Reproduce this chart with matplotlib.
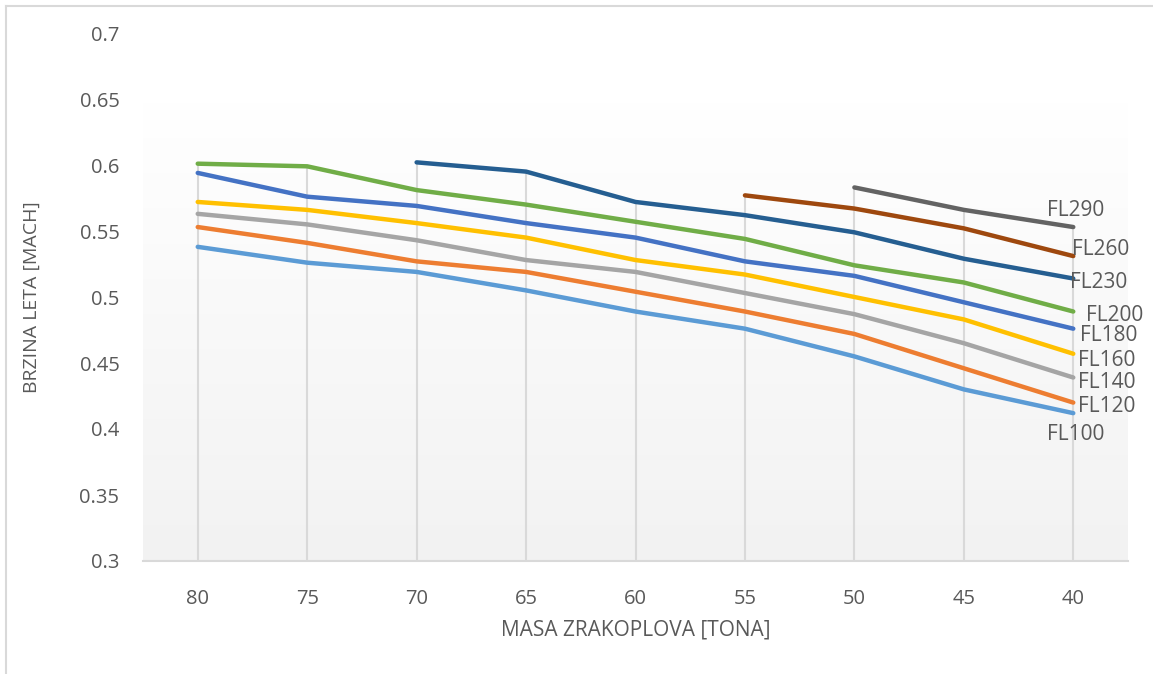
import matplotlib.pyplot as plt
import numpy as np
from matplotlib.lines import Line2D

plt.rcParams['font.family'] = ['Open Sans', 'DejaVu Sans']

# masa zrakoplova [t]
masa = ["80", "75", "70", "65", "60", "55", "50", "45", "40"]
nan = np.nan

fl100 = [0.538, 0.526, 0.519, 0.505, 0.489, 0.476, 0.455, 0.430, 0.412]
fl120 = [0.553, 0.541, 0.527, 0.519, 0.504, 0.489, 0.472, 0.446, 0.420]
fl140 = [0.563, 0.555, 0.543, 0.528, 0.519, 0.503, 0.487, 0.465, 0.439]
fl160 = [0.572, 0.566, 0.556, 0.545, 0.528, 0.517, 0.500, 0.483, 0.457]
fl180 = [0.594, 0.576, 0.569, 0.556, 0.545, 0.527, 0.516, 0.496, 0.476]
fl200 = [0.601, 0.599, 0.581, 0.570, 0.557, 0.544, 0.524, 0.511, 0.489]
fl230 = [nan, nan, 0.602, 0.595, 0.572, 0.562, 0.549, 0.529, 0.514]
fl260 = [nan, nan, nan, nan, nan, 0.577, 0.567, 0.552, 0.531]
fl290 = [nan, nan, nan, nan, nan, nan, 0.583, 0.566, 0.553]

series = [fl100, fl120, fl140, fl160, fl180, fl200, fl230, fl260, fl290]
names = ["FL100", "FL120", "FL140", "FL160", "FL180", "FL200", "FL230", "FL260", "FL290"]
colors = ["#5b9bd5", "#ed7d31", "#a5a5a5", "#ffc000", "#4472c4",
          "#70ad47", "#255e91", "#9e480e", "#636363"]
# label offset from last point, pixels
offs = [(2, -21), (33, -4), (33, -5), (33, -7), (35, -7),
        (41, -4), (25, -4), (27, 7), (2, 17)]

W, H = 1153, 674
fig = plt.figure(figsize=(W / 100, H / 100), dpi=100)
ax = fig.add_axes([143 / W, (H - 561) / H, (1128 - 143) / W, (561 - 33) / H])
ax.set_facecolor('none')
ax.set_xlim(-0.5, 8.5)
ax.set_ylim(0.3, 0.7)

# chart area border (top & left visible)
fig.add_artist(Line2D([5.5 / W, 5.5 / W], [0, 1 - 5.5 / H], transform=fig.transFigure,
                      color='#d9d9d9', lw=1.5))
fig.add_artist(Line2D([5.5 / W, 1], [1 - 5.5 / H, 1 - 5.5 / H], transform=fig.transFigure,
                      color='#d9d9d9', lw=1.5))

# gradient plot area
grad = np.linspace(0, 1, 256).reshape(-1, 1)
c0 = np.array([0xf2, 0xf2, 0xf2]) / 255
c1 = np.array([1.0, 1.0, 1.0])
img = c0[None, None, :] * (1 - grad[:, :, None]) + c1[None, None, :] * grad[:, :, None]
ax.imshow(img, extent=[-0.5, 8.5, 0.3, 0.647], origin='lower', aspect='auto', zorder=0)

x = np.arange(len(masa))
arr = np.array(series, dtype=float)
top = np.nanmax(arr, axis=0)
ax.vlines(x, 0.3, top, color='#d9d9d9', lw=1.5, zorder=1)

for ys, n, c, o in zip(series, names, colors, offs):
    ax.plot(x, ys, color=c, lw=3.2, solid_capstyle='round', solid_joinstyle='round', zorder=3)
    ax.annotate(n, (x[-1], ys[-1]), xytext=o, textcoords='offset pixels',
                ha='center', va='center', fontsize=15, color='#595959', zorder=4)

for s in ['top', 'right', 'left']:
    ax.spines[s].set_visible(False)
ax.spines['bottom'].set_color('#d9d9d9')
ax.spines['bottom'].set_linewidth(1.5)

ax.set_xticks(x)
ax.set_xticklabels(masa)
ax.set_yticks(np.arange(0.3, 0.701, 0.05))
ax.set_yticklabels(["0.3", "0.35", "0.4", "0.45", "0.5", "0.55", "0.6", "0.65", "0.7"])
ax.tick_params(axis='both', length=0, labelsize=14.5, colors='#595959')
ax.tick_params(axis='y', pad=17)
ax.tick_params(axis='x', pad=20)

ax.set_xlabel("MASA ZRAKOPLOVA [TONA]", fontsize=15, color='#595959', labelpad=8)
ax.set_ylabel("BRZINA LETA [MACH]", fontsize=14, color='#595959', labelpad=28)

fig.savefig("out.png", dpi=100)
